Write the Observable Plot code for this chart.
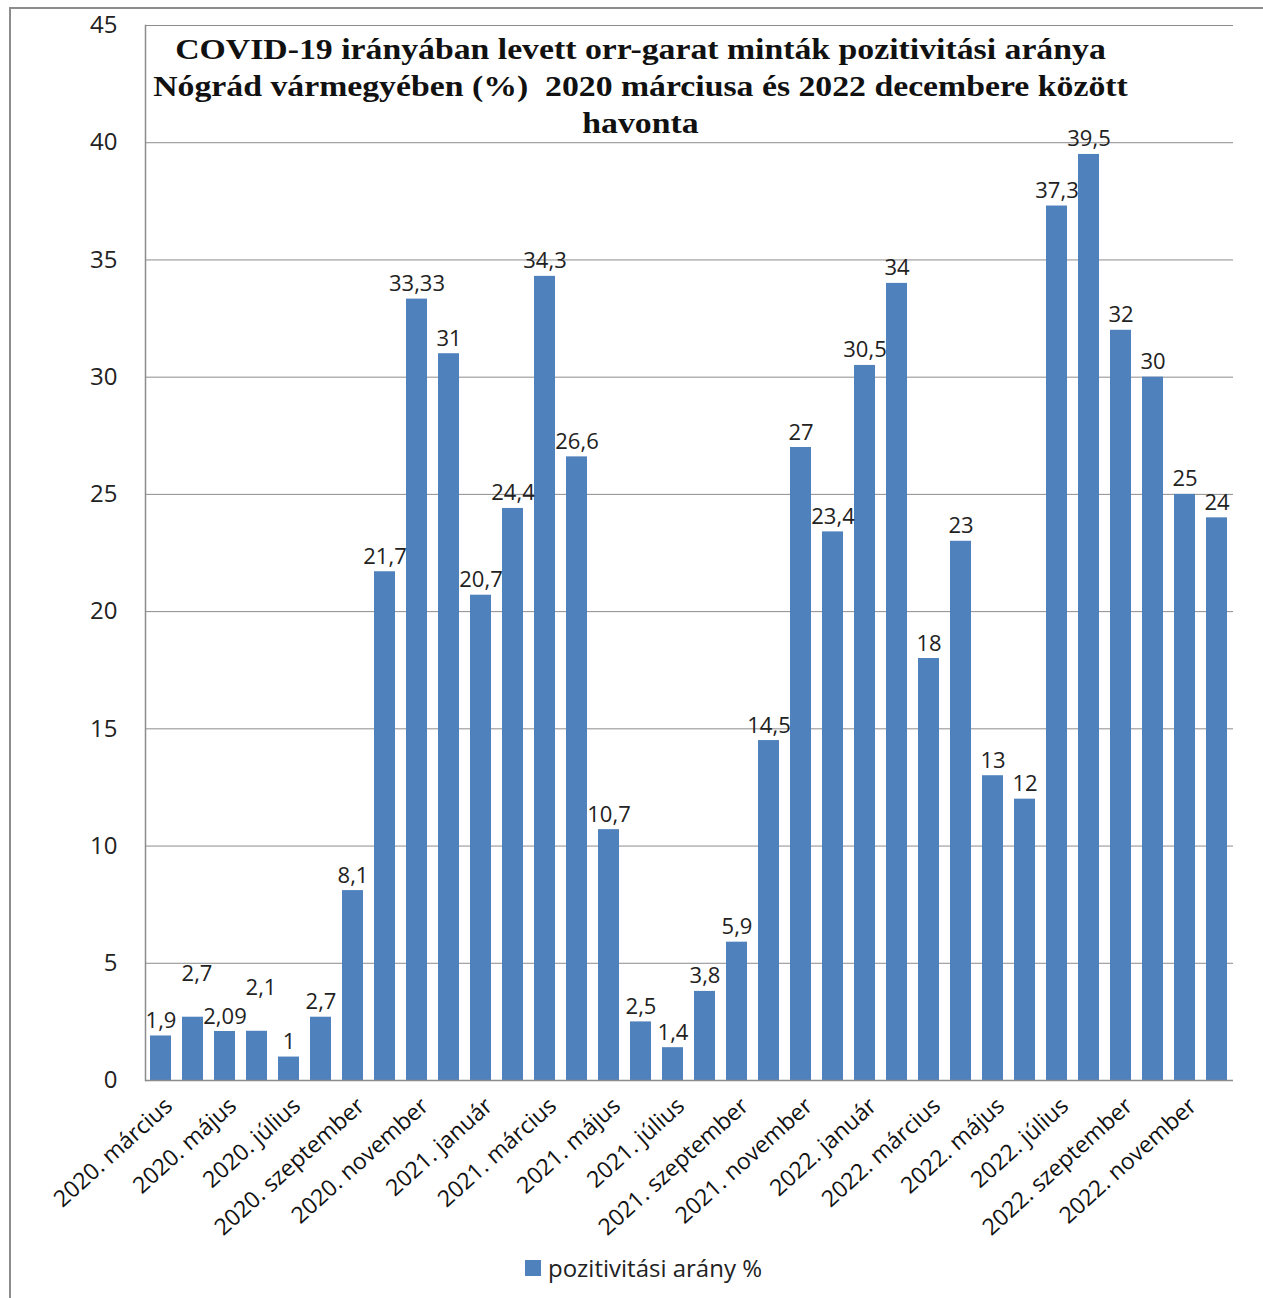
<!DOCTYPE html>
<html>
<head>
<meta charset="utf-8">
<script src="https://cdn.jsdelivr.net/npm/d3@7"></script>
<script src="https://cdn.jsdelivr.net/npm/@observablehq/plot@0.6"></script>
<style>
  html, body { margin: 0; padding: 0; background: #fff; overflow: hidden; }
  #wrap { position: relative; width: 1263px; height: 1298px; overflow: hidden; }
  #outer { position: absolute; left: 9px; top: 7px; width: 1300px; height: 1320px; border: 2px solid #8c8c8c; box-sizing: border-box; }
  #chart { position: absolute; left: 0; top: 0; }
  #title { position: absolute; left: 9px; width: 1263px; top: 30px; text-align: center;
           font-family: "Liberation Serif", serif; font-weight: bold; font-size: 30px; line-height: 37px; color: #111;
           transform: scaleX(1.125); transform-origin: center top; }
  #legend { position: absolute; left: 525px; top: 1251px; font-family: "Open Sans", sans-serif; font-size: 24px; color: #222; display: flex; align-items: center; }
  #legend .sw { width: 16px; height: 16px; background: #4F81BD; margin-right: 7px; }
</style>
</head>
<body>
<div id="wrap">
  <div id="outer"></div>
  <div id="chart"></div>
  <div id="title">COVID-19 irányában levett orr-garat minták pozitivitási aránya<br>Nógrád vármegyében (%)&nbsp; 2020 márciusa és 2022 decembere között<br>havonta</div>
  <div id="legend"><span class="sw"></span><span id="legendText"></span></div>
</div>
<script>
const months = [
  "2020. március", "2020. április", "2020. május", "2020. június", "2020. július", "2020. augusztus",
  "2020. szeptember", "2020. október", "2020. november", "2020. december",
  "2021. január", "2021. február", "2021. március", "2021. április", "2021. május", "2021. június",
  "2021. július", "2021. augusztus", "2021. szeptember", "2021. október", "2021. november", "2021. december",
  "2022. január", "2022. február", "2022. március", "2022. április", "2022. május", "2022. június",
  "2022. július", "2022. augusztus", "2022. szeptember", "2022. október", "2022. november", "2022. december"
];
const values = [
  1.9, 2.7, 2.09, 2.1, 1, 2.7, 8.1, 21.7, 33.33, 31,
  20.7, 24.4, 34.3, 26.6, 10.7, 2.5, 1.4, 3.8, 5.9, 14.5, 27, 23.4,
  30.5, 34, 18, 23, 13, 12, 37.3, 39.5, 32, 30, 25, 24
];
const yTicks = [0, 5, 10, 15, 20, 25, 30, 35, 40, 45];
const seriesName = "pozitivitási arány %";

// simple collision rule: a label whose value is very close to its left neighbour's
// (and whose neighbour was not already lifted) is lifted above it, as in the original
const lifted = [];
values.forEach((v, i) => {
  lifted[i] = i > 0 && !lifted[i - 1] && Math.abs(v - values[i - 1]) < 0.9;
});
const data = months.map((m, i) => ({month: m, value: values[i], lifted: lifted[i]}));
const xTicks = months.filter((m, i) => i % 2 === 0);
const fmt = v => String(v).replace(".", ",");
const blue = "#4F81BD";
const grid = "#8c8c8c";
const font = "'Open Sans', sans-serif";

document.getElementById("legendText").textContent = seriesName;

const labelStyle = {x: "month", y: "value", text: d => fmt(d.value), lineAnchor: "bottom", fontSize: 22, fill: "#222"};

const chart = Plot.plot({
  width: 1263,
  height: 1298,
  marginLeft: 145,
  marginRight: 30,
  marginTop: 25,
  marginBottom: 218,
  style: {fontFamily: font, color: "#222", background: "transparent"},
  x: {domain: months, paddingInner: 0.34, paddingOuter: 0.17, label: null},
  y: {domain: [0, 45], label: null},
  marks: [
    Plot.gridY(yTicks, {stroke: grid, strokeOpacity: 1, strokeWidth: 1}),
    Plot.frame({anchor: "left", stroke: grid, strokeWidth: 1.5}),
    Plot.barY(data, {x: "month", y: "value", fill: blue}),
    Plot.ruleY([0], {stroke: grid, strokeWidth: 1.5}),
    Plot.axisY({ticks: yTicks, tickSize: 0, tickPadding: 28, fontSize: 24, label: null}),
    Plot.axisX({ticks: xTicks, tickSize: 0, tickRotate: -42, fontSize: 23, label: null, dx: 8, dy: 10, fill: "#111"}),
    Plot.text(data.filter(d => !d.lifted), {...labelStyle, dy: -8}),
    Plot.text(data.filter(d => d.lifted), {...labelStyle, dy: -36, dx: 4})
  ]
});
document.getElementById("chart").appendChild(chart);
</script>
</body>
</html>
